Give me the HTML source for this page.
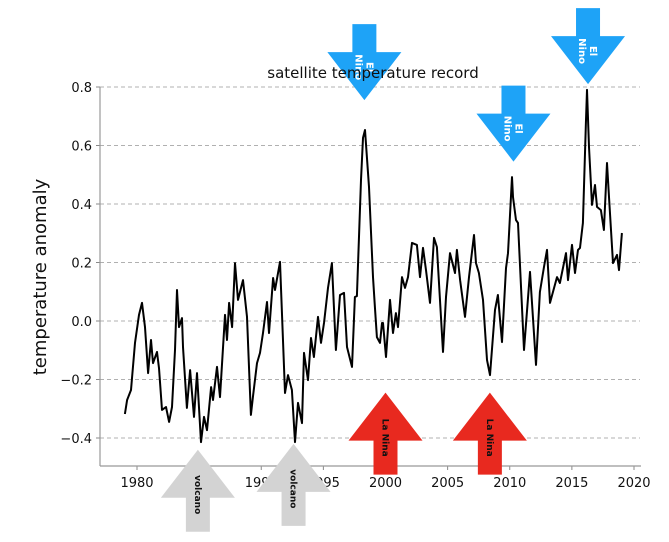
<!DOCTYPE html>
<html><head><meta charset="utf-8"><style>
body{margin:0;background:#fff}
svg{display:block;font-family:"DejaVu Sans","Liberation Sans",sans-serif}
</style></head><body>
<svg id="chart" width="669" height="542" viewBox="0 0 669 542">
<g id="grid"></g><g id="axes"></g><g id="line"></g><g id="ann"></g>
<text x="373" y="78" font-size="15" text-anchor="middle" fill="#111">satellite temperature record</text>
<text transform="translate(46,277) rotate(-90)" font-size="18" text-anchor="middle" fill="#111">temperature anomaly</text>
</svg>
<script>
const years=[1979.03,1979.20,1979.52,1979.84,1980.16,1980.40,1980.64,1980.89,1981.13,1981.29,1981.61,1981.77,1982.01,1982.33,1982.58,1982.82,1983.06,1983.22,1983.38,1983.62,1983.70,1984.02,1984.27,1984.59,1984.83,1985.15,1985.39,1985.63,1985.96,1986.12,1986.44,1986.68,1987.08,1987.24,1987.41,1987.65,1987.89,1988.13,1988.53,1988.85,1989.17,1989.33,1989.66,1989.90,1990.14,1990.46,1990.62,1990.95,1991.11,1991.51,1991.91,1992.15,1992.47,1992.72,1992.96,1993.28,1993.44,1993.76,1994.00,1994.24,1994.57,1994.81,1995.05,1995.37,1995.69,1996.01,1996.34,1996.66,1996.90,1997.30,1997.54,1997.70,1998.03,1998.19,1998.35,1998.67,1998.99,1999.15,1999.31,1999.56,1999.72,1999.80,2000.04,2000.36,2000.60,2000.84,2001.01,2001.33,2001.57,2001.81,2002.13,2002.53,2002.78,2003.02,2003.26,2003.58,2003.90,2004.14,2004.63,2004.87,2005.19,2005.59,2005.75,2006.00,2006.40,2006.72,2007.12,2007.28,2007.52,2007.85,2008.17,2008.41,2008.81,2009.05,2009.38,2009.70,2009.86,2010.18,2010.26,2010.50,2010.66,2011.15,2011.63,2012.11,2012.43,2012.76,2013.00,2013.24,2013.80,2014.04,2014.53,2014.69,2015.01,2015.25,2015.49,2015.65,2015.89,2016.13,2016.22,2016.38,2016.62,2016.86,2017.02,2017.34,2017.58,2017.83,2017.99,2018.31,2018.63,2018.79,2019.03];
const anomalies=[-0.318,-0.270,-0.236,-0.075,0.021,0.062,-0.021,-0.178,-0.065,-0.144,-0.106,-0.161,-0.304,-0.294,-0.345,-0.294,-0.099,0.106,-0.021,0.010,-0.089,-0.297,-0.168,-0.328,-0.178,-0.414,-0.328,-0.373,-0.226,-0.270,-0.157,-0.260,0.021,-0.065,0.062,-0.021,0.198,0.072,0.140,0.014,-0.321,-0.260,-0.144,-0.109,-0.041,0.065,-0.041,0.147,0.106,0.202,-0.246,-0.185,-0.236,-0.414,-0.280,-0.349,-0.109,-0.202,-0.058,-0.123,0.014,-0.075,-0.007,0.113,0.198,-0.099,0.089,0.096,-0.089,-0.157,0.082,0.085,0.482,0.626,0.653,0.458,0.150,0.048,-0.055,-0.075,-0.007,-0.007,-0.123,0.072,-0.041,0.027,-0.021,0.150,0.113,0.150,0.267,0.260,0.150,0.250,0.174,0.062,0.284,0.253,-0.106,0.082,0.232,0.164,0.243,0.140,0.014,0.150,0.294,0.198,0.164,0.072,-0.133,-0.185,0.038,0.089,-0.072,0.181,0.232,0.492,0.424,0.345,0.335,-0.099,0.168,-0.150,0.099,0.185,0.243,0.062,0.150,0.130,0.232,0.140,0.260,0.164,0.243,0.250,0.335,0.677,0.790,0.595,0.397,0.465,0.390,0.379,0.311,0.540,0.424,0.198,0.226,0.174,0.301];
const yTicks=[-0.4,-0.2,0.0,0.2,0.4,0.6,0.8];
const yTickLabels=["\u22120.4","\u22120.2","0.0","0.2","0.4","0.6","0.8"];
const xTicks=[1980,1985,1990,1995,2000,2005,2010,2015,2020];
const xTickLabels=["1980","1985","1990","1995","2000","2005","2010","2015","2020"];
const annYears=[1984.9,1992.6,2000.0,2008.4,1998.3,2010.3,2016.3];
const annValues=[-0.44,-0.42,-0.245,-0.245,0.755,0.545,0.81];
const annLabels=["volcano","volcano","La Nina","La Nina","El Nino","El Nino","El Nino"];
const annKinds=["volcano","volcano","lanina","lanina","elnino","elnino","elnino"];

const X=y=>137+(y-1980)*12.425;
const Y=v=>321-v*292.5;
const NS="http://www.w3.org/2000/svg";
function mk(t,a,p){const e=document.createElementNS(NS,t);for(const k in a)e.setAttribute(k,a[k]);p.appendChild(e);return e;}
const grid=document.getElementById('grid'),axes=document.getElementById('axes'),lineG=document.getElementById('line'),ann=document.getElementById('ann');
yTicks.forEach((v,i)=>{
  if(v>-0.5){const g=mk('line',{x1:100,x2:640,y1:Y(v),y2:Y(v),stroke:'#b0b0b0','stroke-dasharray':'4,3','stroke-width':0.9},grid);
  
  }
  const t=mk('line',{x1:96,x2:100,y1:Y(v),y2:Y(v),stroke:'#888'},axes);
  
  
  const l=mk('text',{x:92,y:Y(v)+5,'font-size':13,'text-anchor':'end',fill:'#111'},axes);l.textContent=yTickLabels[i];
  
  
});
xTicks.forEach((yr,i)=>{
  const t=mk('line',{x1:X(yr),x2:X(yr),y1:466,y2:470,stroke:'#888'},axes);
  
  
  const l=mk('text',{x:X(yr),y:487,'font-size':13,'text-anchor':'middle',fill:'#111'},axes);l.textContent=xTickLabels[i];
  
  
});
const sp1=mk('line',{x1:100,x2:100,y1:Y(0.8),y2:466,stroke:'#999','stroke-width':1.2},axes);


const sp2=mk('line',{x1:100,x2:641,y1:466,y2:466,stroke:'#999','stroke-width':1.2},axes);


const pl=mk('polyline',{points:years.map((y,i)=>X(y).toFixed(1)+','+Y(anomalies[i]).toFixed(1)).join(' '),fill:'none',stroke:'#000','stroke-width':2,'stroke-linejoin':'round'},lineG);



annYears.forEach((yr,i)=>{
  const x=X(yr),y=Y(annValues[i]),k=annKinds[i];
  const up=k!=='elnino';
  const col=k==='volcano'?'#d3d3d3':k==='lanina'?'#e8291f':'#1ea3f7';
  const s=up?1:-1;
  const tail=up?82:76;
  const pts=[[x,y],[x+37,y+48*s],[x+12,y+48*s],[x+12,y+tail*s],[x-12,y+tail*s],[x-12,y+48*s],[x-37,y+48*s]];
  const g=mk('g',{},ann);
  
  
  mk('polygon',{points:pts.map(p=>p.join(',')).join(' '),fill:col},g);
  const cy=up?y+45:y-33;
  const txt=mk('text',{transform:`translate(${x},${cy}) rotate(90)`,'font-size':k==='elnino'?10:9,'font-weight':'bold','text-anchor':'middle',fill:k==='elnino'?'#fff':'#111'},g);
  if(k==='elnino'){
    const a=mk('tspan',{x:0,dy:-2},txt);a.textContent='El';
    const b=mk('tspan',{x:0,dy:11},txt);b.textContent='Nino';
  } else {txt.setAttribute('dy','3');txt.textContent=annLabels[i];}
});
</script>
</body></html>
